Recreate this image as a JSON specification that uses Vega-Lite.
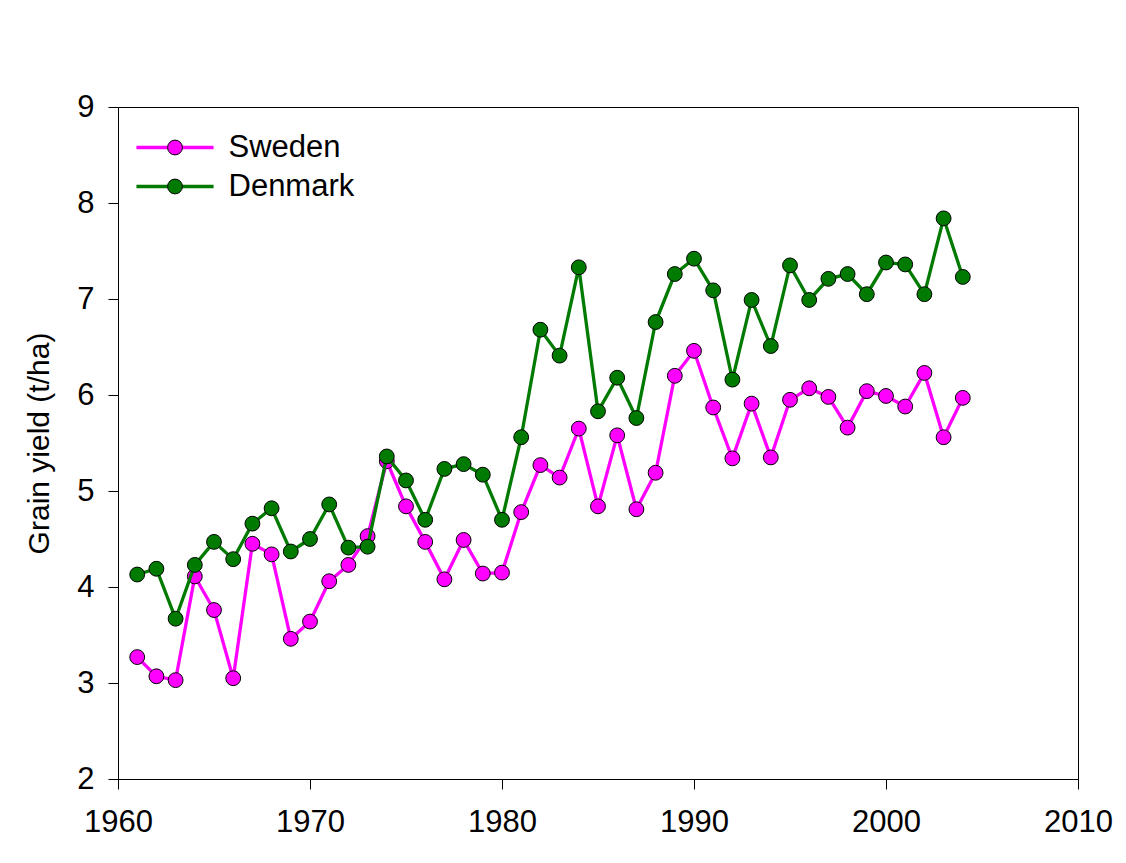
{
  "$schema": "https://vega.github.io/schema/vega-lite/v6.json",
  "width": 960,
  "height": 672,
  "autosize": {"type": "none"},
  "padding": {"left": 118, "top": 107, "right": 48, "bottom": 84},
  "background": "white",
  "config": {
    "font": "Liberation Sans",
    "view": {"stroke": "black", "strokeWidth": 1},
    "axis": {
      "domainColor": "black", "domainWidth": 1, "tickColor": "black", "tickWidth": 1, "tickSize": 10,
      "labelFontSize": 31, "labelColor": "black", "labelFont": "Liberation Sans",
      "titleFontSize": 30, "titleFontWeight": "normal", "titleColor": "black", "titleFont": "Liberation Sans",
      "grid": false
    },
    "legend": {"padding": 0, "labelFontSize": 31, "labelColor": "black", "labelFont": "Liberation Sans"}
  },
  "datasets": {
    "yields": [
      {"year": 1961, "country": "Sweden", "yield": 3.27}, {"year": 1962, "country": "Sweden", "yield": 3.07},
      {"year": 1963, "country": "Sweden", "yield": 3.03}, {"year": 1964, "country": "Sweden", "yield": 4.11},
      {"year": 1965, "country": "Sweden", "yield": 3.76}, {"year": 1966, "country": "Sweden", "yield": 3.05},
      {"year": 1967, "country": "Sweden", "yield": 4.45}, {"year": 1968, "country": "Sweden", "yield": 4.34},
      {"year": 1969, "country": "Sweden", "yield": 3.46}, {"year": 1970, "country": "Sweden", "yield": 3.64},
      {"year": 1971, "country": "Sweden", "yield": 4.06}, {"year": 1972, "country": "Sweden", "yield": 4.23},
      {"year": 1973, "country": "Sweden", "yield": 4.53}, {"year": 1974, "country": "Sweden", "yield": 5.31},
      {"year": 1975, "country": "Sweden", "yield": 4.84}, {"year": 1976, "country": "Sweden", "yield": 4.47},
      {"year": 1977, "country": "Sweden", "yield": 4.08}, {"year": 1978, "country": "Sweden", "yield": 4.49},
      {"year": 1979, "country": "Sweden", "yield": 4.14}, {"year": 1980, "country": "Sweden", "yield": 4.15},
      {"year": 1981, "country": "Sweden", "yield": 4.78}, {"year": 1982, "country": "Sweden", "yield": 5.27},
      {"year": 1983, "country": "Sweden", "yield": 5.14}, {"year": 1984, "country": "Sweden", "yield": 5.65},
      {"year": 1985, "country": "Sweden", "yield": 4.84}, {"year": 1986, "country": "Sweden", "yield": 5.58},
      {"year": 1987, "country": "Sweden", "yield": 4.81}, {"year": 1988, "country": "Sweden", "yield": 5.19},
      {"year": 1989, "country": "Sweden", "yield": 6.20}, {"year": 1990, "country": "Sweden", "yield": 6.46},
      {"year": 1991, "country": "Sweden", "yield": 5.87}, {"year": 1992, "country": "Sweden", "yield": 5.34},
      {"year": 1993, "country": "Sweden", "yield": 5.91}, {"year": 1994, "country": "Sweden", "yield": 5.35},
      {"year": 1995, "country": "Sweden", "yield": 5.95}, {"year": 1996, "country": "Sweden", "yield": 6.07},
      {"year": 1997, "country": "Sweden", "yield": 5.98}, {"year": 1998, "country": "Sweden", "yield": 5.66},
      {"year": 1999, "country": "Sweden", "yield": 6.04}, {"year": 2000, "country": "Sweden", "yield": 5.99},
      {"year": 2001, "country": "Sweden", "yield": 5.88}, {"year": 2002, "country": "Sweden", "yield": 6.23},
      {"year": 2003, "country": "Sweden", "yield": 5.56}, {"year": 2004, "country": "Sweden", "yield": 5.97},
      {"year": 1961, "country": "Denmark", "yield": 4.13}, {"year": 1962, "country": "Denmark", "yield": 4.19},
      {"year": 1963, "country": "Denmark", "yield": 3.67}, {"year": 1964, "country": "Denmark", "yield": 4.23},
      {"year": 1965, "country": "Denmark", "yield": 4.47}, {"year": 1966, "country": "Denmark", "yield": 4.29},
      {"year": 1967, "country": "Denmark", "yield": 4.66}, {"year": 1968, "country": "Denmark", "yield": 4.82},
      {"year": 1969, "country": "Denmark", "yield": 4.37}, {"year": 1970, "country": "Denmark", "yield": 4.50},
      {"year": 1971, "country": "Denmark", "yield": 4.86}, {"year": 1972, "country": "Denmark", "yield": 4.41},
      {"year": 1973, "country": "Denmark", "yield": 4.42}, {"year": 1974, "country": "Denmark", "yield": 5.36},
      {"year": 1975, "country": "Denmark", "yield": 5.11}, {"year": 1976, "country": "Denmark", "yield": 4.70},
      {"year": 1977, "country": "Denmark", "yield": 5.23}, {"year": 1978, "country": "Denmark", "yield": 5.28},
      {"year": 1979, "country": "Denmark", "yield": 5.17}, {"year": 1980, "country": "Denmark", "yield": 4.70},
      {"year": 1981, "country": "Denmark", "yield": 5.56}, {"year": 1982, "country": "Denmark", "yield": 6.68},
      {"year": 1983, "country": "Denmark", "yield": 6.41}, {"year": 1984, "country": "Denmark", "yield": 7.33},
      {"year": 1985, "country": "Denmark", "yield": 5.83}, {"year": 1986, "country": "Denmark", "yield": 6.18},
      {"year": 1987, "country": "Denmark", "yield": 5.76}, {"year": 1988, "country": "Denmark", "yield": 6.76},
      {"year": 1989, "country": "Denmark", "yield": 7.26}, {"year": 1990, "country": "Denmark", "yield": 7.42},
      {"year": 1991, "country": "Denmark", "yield": 7.09}, {"year": 1992, "country": "Denmark", "yield": 6.16},
      {"year": 1993, "country": "Denmark", "yield": 6.99}, {"year": 1994, "country": "Denmark", "yield": 6.51},
      {"year": 1995, "country": "Denmark", "yield": 7.35}, {"year": 1996, "country": "Denmark", "yield": 6.99},
      {"year": 1997, "country": "Denmark", "yield": 7.21}, {"year": 1998, "country": "Denmark", "yield": 7.26},
      {"year": 1999, "country": "Denmark", "yield": 7.05}, {"year": 2000, "country": "Denmark", "yield": 7.38},
      {"year": 2001, "country": "Denmark", "yield": 7.36}, {"year": 2002, "country": "Denmark", "yield": 7.05},
      {"year": 2003, "country": "Denmark", "yield": 7.84}, {"year": 2004, "country": "Denmark", "yield": 7.23}
    ]
  },
  "data": {"name": "yields"},
  "encoding": {
    "x": {
      "field": "year", "type": "quantitative",
      "scale": {"domain": [1960, 2010], "nice": false, "zero": false},
      "axis": {"values": [1960, 1970, 1980, 1990, 2000, 2010], "format": "d", "title": null, "labelPadding": 18, "labelFlush": false, "labelOverlap": false}
    },
    "y": {
      "field": "yield", "type": "quantitative",
      "scale": {"domain": [2, 9], "nice": false, "zero": false},
      "axis": {"values": [2, 3, 4, 5, 6, 7, 8, 9], "title": "Grain yield (t/ha)", "labelPadding": 14, "titlePadding": 22, "labelFlush": false, "labelOverlap": false}
    }
  },
  "layer": [
    {
      "transform": [{"filter": "datum.country === 'Sweden'"}],
      "mark": {"type": "line", "strokeWidth": 3.3},
      "encoding": {
        "stroke": {
          "field": "country", "type": "nominal",
          "scale": {"domain": ["Sweden", "Denmark"], "range": ["#ff00ff", "#007a00"]},
          "legend": {"title": null, "orient": "none", "legendX": 41.5, "legendY": 25, "symbolType": "M-5.2,0L5.2,0", "symbolSize": 220, "symbolStrokeWidth": 3.3, "labelOffset": 38, "rowPadding": 7, "zindex": 1}
        }
      }
    },
    {
      "transform": [{"filter": "datum.country === 'Sweden'"}],
      "mark": {"type": "circle", "size": 220, "stroke": "black", "strokeWidth": 1, "opacity": 1, "fillOpacity": 1},
      "encoding": {
        "fill": {
          "field": "country", "type": "nominal", "sort": ["Sweden", "Denmark"],
          "scale": {"range": ["#ff00ff", "#007a00"]},
          "legend": {"title": null, "orient": "none", "legendX": 41.5, "legendY": 25, "symbolType": "circle", "symbolSize": 220, "symbolStrokeColor": "black", "symbolStrokeWidth": 1, "symbolOpacity": 1, "labelOffset": 38, "labelOpacity": 0, "rowPadding": 7, "zindex": 2}
        }
      }
    },
    {
      "transform": [{"filter": "datum.country === 'Denmark'"}],
      "mark": {"type": "line", "strokeWidth": 3.3},
      "encoding": {"stroke": {"field": "country", "type": "nominal"}}
    },
    {
      "transform": [{"filter": "datum.country === 'Denmark'"}],
      "mark": {"type": "circle", "size": 220, "stroke": "black", "strokeWidth": 1, "opacity": 1, "fillOpacity": 1},
      "encoding": {"fill": {"field": "country", "type": "nominal", "sort": ["Sweden", "Denmark"]}}
    }
  ]
}
